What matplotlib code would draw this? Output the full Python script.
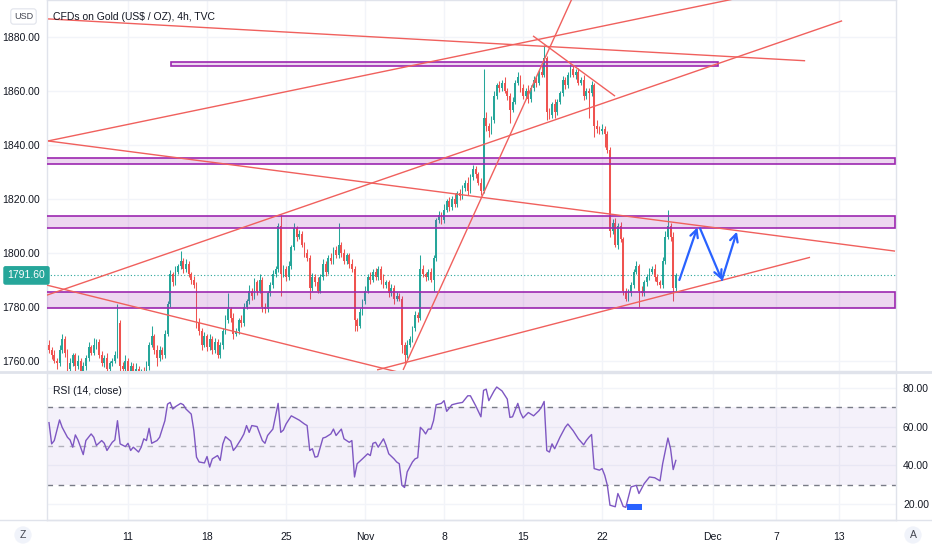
import matplotlib
matplotlib.use('Agg')
import matplotlib.pyplot as plt
from matplotlib.patches import Rectangle
import matplotlib.transforms as mtrans

# ---------------- data ----------------
# 4h closes (6 bars per trading day), starting Mon Oct 4 2021
closes = [
    1764, 1762, 1760, 1759, 1764, 1768, 1763, 1757, 1759, 1762,
    1758, 1760, 1756, 1758, 1761, 1765, 1763, 1766, 1767, 1762,
    1759, 1761, 1757, 1759, 1760, 1762, 1774, 1758, 1757, 1760,
    1756, 1758, 1755, 1757, 1754, 1756, 1755, 1758, 1766, 1769,
    1764, 1761, 1764, 1762, 1770, 1781, 1792, 1789, 1793, 1795,
    1797, 1794, 1796, 1792, 1790, 1788, 1774, 1771, 1766, 1769,
    1765, 1768, 1764, 1767, 1762, 1766, 1771, 1775, 1779, 1776,
    1770, 1771, 1775, 1774, 1780, 1782, 1786, 1784, 1789, 1786,
    1790, 1780, 1779, 1785, 1788, 1792, 1794, 1810, 1792, 1794,
    1791, 1795, 1802, 1809, 1806, 1807, 1803, 1800, 1798, 1787,
    1791, 1789, 1786, 1791, 1796, 1793, 1798, 1797, 1801, 1799,
    1803, 1800, 1797, 1799, 1796, 1794, 1775, 1773, 1778, 1782,
    1786, 1791, 1790, 1793, 1791, 1794, 1790, 1788, 1789, 1785,
    1787, 1783, 1784, 1783, 1766, 1762, 1766, 1768, 1772, 1777,
    1776, 1794, 1792, 1791, 1793, 1790, 1798, 1812, 1814, 1812,
    1816, 1819, 1817, 1820, 1818, 1822, 1821, 1824, 1826, 1823,
    1828, 1831, 1829, 1826, 1823, 1850, 1847, 1845, 1849, 1858,
    1862, 1861, 1863, 1860, 1858, 1853, 1856, 1863, 1865, 1861,
    1858, 1860, 1857, 1861, 1864, 1863, 1867, 1866, 1872, 1852,
    1851, 1855, 1852, 1856, 1859, 1864, 1862, 1866, 1868, 1866,
    1867, 1863, 1864, 1858, 1860, 1859, 1862, 1847, 1846, 1845,
    1846, 1844, 1838, 1808, 1811, 1803, 1810, 1805, 1786, 1783,
    1785, 1788, 1793, 1795, 1786, 1785, 1789, 1791, 1793, 1794,
    1791, 1789, 1788, 1797, 1806, 1810, 1806, 1787, 1791.6,
]
first_open = 1766
up_wick = [
    1.5, 1, 2, 1, 2, 2, 1, 1.5, 2, 1, 1, 2, 1, 1.5, 1, 2, 1, 2.5, 1, 1,
    1.5, 1, 2, 1, 1, 1.5, 7, 1, 1.5, 2, 1, 1.5, 1, 2, 1, 1, 1.5, 2, 1, 4,
    1, 2, 1.5, 1, 1.5, 1, 1.5, 1, 2, 1, 3.5, 1, 1.5, 1, 1, 1.5, 1, 2, 1, 1.5,
    1, 2, 1, 1.5, 1, 1, 1, 2, 6, 1, 1.5, 1, 1, 2, 1.5, 1, 2, 1, 1.5, 1,
    2, 1, 1.5, 1, 1, 1.5, 1, 1, 4, 1.5, 1, 2, 1, 2, 1, 1.5, 1, 1, 1.5, 1,
    1.5, 1, 2, 1, 1.5, 1, 1, 2, 1, 1.5, 8, 1, 1.5, 1, 1, 1.5, 1, 1, 1.5, 1,
    1.5, 1, 2, 1, 1.5, 1, 1, 2, 1, 1, 1.5, 1, 1.5, 1, 1, 1, 1.5, 1, 1, 1.5,
    1, 5, 1.5, 1, 1, 1.5, 1, 1, 1.5, 1, 2, 1, 1.5, 1, 2, 1, 1.5, 1, 1, 2,
    1, 1.5, 1, 1, 1.5, 18, 2, 1, 1.5, 2, 1, 1.5, 1, 2, 1, 1, 1.5, 1, 2, 1,
    1.5, 1, 2, 1, 1.5, 1, 1, 2, 5, 1, 1.5, 1, 2, 1, 1, 1.5, 1, 1, 2, 1.5,
    1, 1.5, 1, 2, 1, 1, 1.5, 1, 2, 1, 1.5, 1, 1, 1, 1.5, 2, 1, 1.5, 1, 1,
    1.5, 1, 1, 2, 1, 1.5, 1, 1, 1.5, 1, 2, 1, 1, 1.5, 2, 6, 1, 1.5, 1,
]
down_wick = [
    1, 1.5, 1, 2, 1, 1, 1.5, 2, 1, 1, 2, 1, 2, 1, 1.5, 1, 1, 1, 1.5, 1,
    1, 1.5, 2, 1, 1, 1, 1, 2, 1.5, 1, 2, 1, 3, 1.5, 3, 1, 2, 1, 1.5, 1,
    1.5, 3, 1, 1.5, 1, 1, 1, 1.5, 1, 1, 1, 1.5, 1, 1, 1.5, 1, 2, 1.5, 2, 1,
    1.5, 1, 1.5, 1, 1, 1, 1.5, 1, 1, 1.5, 2, 1, 1, 1.5, 1, 1, 1, 1.5, 1, 1.5,
    1, 2, 1.5, 1, 1, 1, 1, 1, 8, 1, 1.5, 1, 1, 1, 1.5, 1, 1, 1.5, 1, 4,
    1, 1.5, 1, 1, 1, 1.5, 1, 1, 1, 1, 1, 1.5, 1, 1, 1.5, 1, 4, 2, 1, 1,
    1, 1, 1.5, 1, 1, 1, 1.5, 1, 1, 1.5, 1, 2, 1, 1, 3, 3, 1, 1, 1, 1,
    1.5, 1, 1, 1.5, 1, 1, 4, 1, 1, 1.5, 1, 1, 1.5, 1, 1, 1, 1.5, 1, 1, 1.5,
    1, 1, 1.5, 1, 1.5, 1, 2, 2, 1, 1, 1, 1.5, 1, 1, 1.5, 5, 1, 1, 1, 1.5,
    1, 1, 1.5, 1, 1, 1.5, 1, 1, 1, 3, 1.5, 1, 2, 1, 1, 1, 1.5, 1, 1, 1,
    1.5, 1, 1, 1.5, 1, 9, 1, 4, 1.5, 1, 1, 5, 1, 2, 1, 1, 1.5, 1, 1.5, 1,
    1, 1, 1, 1, 6, 1, 1, 1.5, 1, 1, 1.5, 1, 1, 1, 1, 1, 1.5, 5, 1,
]

# RSI(14) samples: (bar index, value)
rsi_bar = [0, 1, 2, 4, 5, 7, 8, 9, 10, 11, 13, 14, 16, 17, 18, 20, 21, 22, 24, 25,
           26, 27, 29, 30, 31, 32, 34, 35, 36, 37, 38, 39, 41, 42, 44, 45, 46, 47, 48, 50,
           51, 52, 54, 55, 56, 57, 59, 60, 61, 62, 64, 65, 66, 67, 69, 70, 71, 73, 74, 75,
           76, 77, 79, 81, 82, 83, 85, 87, 88, 89, 90, 92, 95, 97, 98, 99, 100, 101, 102, 104,
           105, 107, 108, 109, 111, 112, 114, 115, 116, 117, 119, 121, 122, 123, 124, 125, 127, 128, 129, 131,
           132, 133, 134, 135, 136, 138, 139, 140, 141, 142, 143, 144, 145, 146, 147, 149, 150, 151, 153, 155,
           157, 159, 160, 162, 164, 165, 166, 167, 169, 170, 172, 174, 175, 176, 178, 179, 180, 182, 184, 186,
           187, 188, 189, 190, 191, 192, 194, 196, 197, 199, 201, 203, 204, 205, 206, 207, 209, 210, 211, 212,
           213, 215, 216, 217, 218, 219, 221, 222, 223, 224, 226, 228, 230, 232, 233, 235, 236, 237, 238]
rsi_val = [62.0, 51.1, 52.8, 63.4, 59.6, 54.5, 53.1, 49.4, 55.7, 53.1, 45.6, 52.8, 56.2, 54.5, 50.3, 52.8, 51.4, 47.7, 51.9, 53.1,
           63.0, 51.1, 49.7, 51.4, 47.7, 49.4, 46.9, 49.4, 53.7, 52.8, 59.1, 51.4, 52.8, 54.5, 63.0, 71.5, 72.4, 69.0, 70.2, 71.9,
           71.2, 69.0, 66.4, 57.9, 44.3, 41.8, 41.3, 44.6, 39.2, 43.4, 45.1, 42.6, 51.1, 54.8, 52.5, 47.7, 49.4, 53.7, 56.2, 60.5,
           57.0, 60.5, 60.0, 52.8, 51.4, 55.4, 58.7, 71.9, 57.0, 58.2, 61.3, 65.5, 63.3, 61.3, 60.5, 47.7, 48.6, 44.3, 44.6, 54.1,
           54.5, 56.2, 58.7, 55.4, 58.7, 53.7, 51.9, 52.8, 34.1, 40.9, 43.4, 46.0, 45.1, 51.4, 51.9, 49.4, 53.7, 50.3, 46.0, 43.4,
           41.8, 40.9, 29.8, 28.7, 36.7, 41.8, 43.4, 44.0, 59.6, 58.2, 56.2, 58.7, 58.7, 63.0, 71.2, 71.9, 73.3, 67.8, 71.2, 71.9,
           72.4, 75.8, 75.8, 70.7, 65.0, 78.6, 79.2, 73.3, 78.3, 80.3, 78.3, 74.1, 64.7, 65.0, 71.9, 67.2, 64.4, 67.2, 65.5, 68.1,
           70.0, 72.9, 47.7, 46.9, 51.1, 48.6, 54.5, 59.6, 61.3, 57.9, 53.7, 50.6, 52.8, 54.5, 55.9, 38.4, 37.6, 38.4, 35.0, 29.8,
           19.6, 18.8, 25.6, 22.5, 19.0, 18.5, 29.0, 29.4, 29.8, 25.6, 30.7, 34.1, 33.7, 32.1, 40.9, 54.1, 48.6, 37.9, 42.6]

# drawings: (trading day since Oct 4, price)
trend_lines = [
    ((-0.06, 1886.6), (47.85, 1871.1)),
    ((-0.06, 1841.4), (45.0, 1896.0)),
    ((-0.06, 1841.4), (53.54, 1800.6)),
    ((-0.13, 1788.0), (22.3, 1755.5)),
    ((20.76, 1756.6), (48.16, 1798.3)),
    ((22.41, 1756.6), (33.29, 1896.6)),
    ((30.63, 1880.3), (35.82, 1858.0)),
    ((-0.13, 1784.3), (50.19, 1885.9)),
]
zones = [  # (x0, x1, low, high)
    (7.70, 42.34, 1869.1, 1870.6),
    (-1.0, 53.54, 1832.7, 1835.0),
    (-1.0, 53.54, 1809.0, 1813.7),
    (-1.0, 53.54, 1779.6, 1785.6),
]
arrows = [
    ((39.89, 1789.9), (41.03, 1809.4)),
    ((41.20, 1809.0), (42.58, 1789.9)),
    ((42.58, 1789.9), (43.53, 1807.8)),
]
rsi_box = (36.58, 37.53, 17.1, 20.0)
last_price = 1791.6

price_ticks = [1760, 1780, 1800, 1820, 1840, 1860, 1880]
rsi_ticks = [20, 40, 60, 80]
date_pos = [5, 10, 15, 20, 25, 30, 35, 42, 46, 50]
date_lbl = ['11', '18', '25', 'Nov', '8', '15', '22', 'Dec', '7', '13']
BARS_PER_DAY = 6

# ---------------- style ----------------
plt.rcParams['font.family'] = ['Liberation Sans', 'DejaVu Sans']
TXT = '#131722'
GRID = '#f2f4f9'
SEP = '#e0e3eb'
UP, DN = '#26a69a', '#ef5350'
TL = '#f0605d'
PURP = '#9c27b0'
FS = 7.5

W, H = 932, 550
fig = plt.figure(figsize=(W / 100, H / 100), dpi=100)
L, R = 47, 896
ax = fig.add_axes([L / W, 1 - 371 / H, (R - L) / W, 371 / H])
rax = fig.add_axes([L / W, 1 - 520 / H, (R - L) / W, (520 - 373) / H])

XL = (-0.127, 53.6)
for a in (ax, rax):
    a.set_xlim(*XL)
    a.set_xticks(date_pos)
    a.grid(True, color=GRID, lw=1)
    a.set_axisbelow(True)
    for s in a.spines.values():
        s.set_color(SEP)
        s.set_linewidth(1)
ax.set_ylim(1756.2, 1893.6)
rax.set_ylim(12.0, 87.5)

# candles
opens = [first_open] + closes[:-1]
xs = [i / BARS_PER_DAY for i in range(len(closes))]
bw = 0.68 / BARS_PER_DAY
for x, o, c, uw, dw in zip(xs, opens, closes, up_wick, down_wick):
    col = UP if c >= o else DN
    top, bot = max(o, c), min(o, c)
    ax.vlines(x, bot - dw, top + uw, color=col, lw=0.75, zorder=3)
    ax.bar(x, max(top - bot, 0.35), bottom=bot, width=bw, color=col, lw=0, zorder=4)

# zones
for x0, x1, lo, hi in zones:
    ax.add_patch(Rectangle((x0, lo), x1 - x0, hi - lo, facecolor=(0.61, 0.15, 0.69, 0.18),
                           edgecolor=PURP, lw=1.2, zorder=5))

# trend lines
for (x0, y0), (x1, y1) in trend_lines:
    ax.plot([x0, x1], [y0, y1], color=TL, lw=1.0, zorder=6, solid_capstyle='butt')

# last price line
ax.axhline(last_price, color=UP, lw=0.8, ls=(0, (1, 2)), zorder=2)

# arrows
for (x0, y0), (x1, y1) in arrows:
    ax.annotate('', xy=(x1, y1), xytext=(x0, y0),
                arrowprops=dict(arrowstyle='->,head_length=0.55,head_width=0.28',
                                color='#2962ff', lw=1.6, shrinkA=0, shrinkB=0), zorder=7)

# axes ticks
ax.set_yticks(price_ticks)
ax.set_yticklabels([f'{v:.2f}' for v in price_ticks])
ax.tick_params(axis='y', length=0, pad=5, labelsize=FS, labelcolor=TXT)
ax.tick_params(axis='x', length=0, labelbottom=False)

rax.yaxis.tick_right()
rax.set_yticks(rsi_ticks)
rax.set_yticklabels([f'{v:.2f}' for v in rsi_ticks])
rax.tick_params(axis='y', length=0, pad=5, labelsize=FS, labelcolor=TXT)
rax.set_xticklabels(date_lbl)
rax.tick_params(axis='x', length=0, pad=9, labelsize=FS, labelcolor=TXT)

# RSI panel
rax.axhspan(30, 70, color='#7e57c2', alpha=0.08, lw=0, zorder=1)
for lvl, al in ((70, 1.0), (50, 0.55), (30, 1.0)):
    rax.axhline(lvl, color='#787b86', lw=1, ls=(0, (4, 4)), alpha=al, zorder=2)
rax.plot([b / BARS_PER_DAY for b in rsi_bar], rsi_val, color='#7e57c2', lw=1, zorder=4)
bx0, bx1, by0, by1 = rsi_box
rax.add_patch(Rectangle((bx0, by0), bx1 - bx0, by1 - by0, color='#2962ff', lw=0, zorder=5))

# texts
def fx(px):
    return px / W

def fy(py):
    return 1 - py / H

fig.text(fx(53), fy(17), 'CFDs on Gold (US$ / OZ), 4h, TVC', fontsize=7.5, color=TXT,
         ha='left', va='center')
fig.text(fx(23.5), fy(16.5), 'USD', fontsize=6.5, color='#434651', ha='center', va='center',
         bbox=dict(boxstyle='round,pad=0.35,rounding_size=0.3', fc='white', ec=SEP, lw=0.8))
trans = mtrans.blended_transform_factory(fig.transFigure, ax.transData)
fig.text(fx(26.5), last_price, f'{last_price:.2f}', transform=trans, fontsize=FS, color='white',
         ha='center', va='center', zorder=10,
         bbox=dict(boxstyle='round,pad=0.35,rounding_size=0.15', fc=UP, ec=UP))
fig.text(fx(53), fy(391), 'RSI (14, close)', fontsize=FS, color=TXT, ha='left', va='center')
fig.text(fx(23), fy(535), 'Z', fontsize=FS, color='#434651', ha='center', va='center',
         bbox=dict(boxstyle='circle,pad=0.35', fc='#f0f3fa', ec='none'))
fig.text(fx(913), fy(535), 'A', fontsize=FS, color='#434651', ha='center', va='center',
         bbox=dict(boxstyle='circle,pad=0.35', fc='#f0f3fa', ec='none'))

# panel separators
fig.add_artist(plt.Line2D([0, 1], [fy(371.5), fy(371.5)], color=SEP, lw=2))
fig.add_artist(plt.Line2D([0, 1], [fy(520), fy(520)], color=SEP, lw=1))

fig.savefig('out.png', dpi=100)
